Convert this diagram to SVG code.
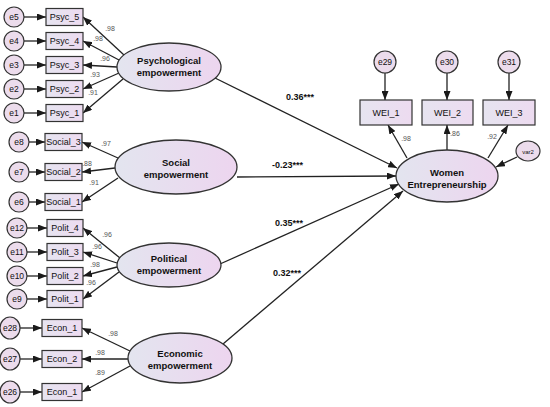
<svg xmlns="http://www.w3.org/2000/svg" width="550" height="407" viewBox="0 0 550 407">
<defs>
<linearGradient id="gl" x1="0" y1="0" x2="1" y2="0">
<stop offset="0" stop-color="#e3e5ef"/><stop offset="1" stop-color="#edd5ef"/>
</linearGradient>
<linearGradient id="gb" x1="0" y1="0" x2="1" y2="0">
<stop offset="0" stop-color="#e6e4f0"/><stop offset="1" stop-color="#eddbf0"/>
</linearGradient>
<marker id="ah" markerUnits="userSpaceOnUse" markerWidth="9" markerHeight="7" refX="9" refY="3.5" orient="auto">
<path d="M0,0 L9,3.5 L0,7 z" fill="#1a1a1a"/>
</marker>
</defs>
<style>
.lat{fill:url(#gl);stroke:#333;stroke-width:1.3}
.box{fill:url(#gb);stroke:#333;stroke-width:1.2}
.err{fill:#ecdcec;stroke:#333;stroke-width:1.2}
.ln{stroke:#222;stroke-width:1.3;fill:none;marker-end:url(#ah)}
.lt{font-family:"Liberation Sans",Arial,sans-serif;font-weight:bold;font-size:9.5px;fill:#111;text-anchor:middle}
.bt{font-family:"Liberation Sans",Arial,sans-serif;font-size:9px;fill:#111;text-anchor:middle}
.et{font-family:"Liberation Sans",Arial,sans-serif;font-size:8.5px;fill:#111;text-anchor:middle}
.ld{font-family:"Liberation Sans",Arial,sans-serif;font-size:7px;fill:#555;text-anchor:middle}
.pc{font-family:"Liberation Sans",Arial,sans-serif;font-weight:bold;font-size:9px;fill:#111}
</style>
<rect width="550" height="407" fill="#fff"/>

<g id="connectors">
<line class="ln" x1="24" y1="17" x2="46" y2="17"/>
<line class="ln" x1="24" y1="41" x2="46" y2="41"/>
<line class="ln" x1="24" y1="65" x2="46" y2="65"/>
<line class="ln" x1="24" y1="89" x2="46" y2="89"/>
<line class="ln" x1="24" y1="113" x2="46" y2="113"/>
<line class="ln" x1="29" y1="142" x2="45" y2="142"/>
<line class="ln" x1="29" y1="172" x2="45" y2="172"/>
<line class="ln" x1="29" y1="202" x2="45" y2="202"/>
<line class="ln" x1="27" y1="228" x2="47" y2="228"/>
<line class="ln" x1="27" y1="252" x2="47" y2="252"/>
<line class="ln" x1="27" y1="276" x2="47" y2="276"/>
<line class="ln" x1="27" y1="299" x2="47" y2="299"/>
<line class="ln" x1="20" y1="328" x2="42" y2="328"/>
<line class="ln" x1="20" y1="359" x2="42" y2="359"/>
<line class="ln" x1="20" y1="392" x2="42" y2="392"/>
<line class="ln" x1="124" y1="55" x2="83" y2="17"/>
<line class="ln" x1="119" y1="60" x2="83" y2="41"/>
<line class="ln" x1="117" y1="67" x2="83" y2="65"/>
<line class="ln" x1="119" y1="73" x2="83" y2="89"/>
<line class="ln" x1="123" y1="79" x2="83" y2="113"/>
<line class="ln" x1="118" y1="158" x2="82" y2="142"/>
<line class="ln" x1="115" y1="168" x2="82" y2="172"/>
<line class="ln" x1="118" y1="178" x2="82" y2="202"/>
<line class="ln" x1="120" y1="258" x2="83" y2="228"/>
<line class="ln" x1="117" y1="263" x2="83" y2="252"/>
<line class="ln" x1="117" y1="267" x2="83" y2="276"/>
<line class="ln" x1="119" y1="272" x2="83" y2="299"/>
<line class="ln" x1="130" y1="351" x2="82" y2="328"/>
<line class="ln" x1="128" y1="359" x2="82" y2="359"/>
<line class="ln" x1="130" y1="366" x2="82" y2="392"/>
<line class="ln" x1="215" y1="78" x2="397" y2="168"/>
<line class="ln" x1="237" y1="177" x2="396" y2="176"/>
<line class="ln" x1="220" y1="264" x2="399" y2="184"/>
<line class="ln" x1="223" y1="344" x2="403" y2="191"/>
<line class="ln" x1="407" y1="158" x2="388" y2="125"/>
<line class="ln" x1="447" y1="150" x2="447" y2="125"/>
<line class="ln" x1="488" y1="158" x2="508" y2="125"/>
<line class="ln" x1="385" y1="73" x2="385" y2="100"/>
<line class="ln" x1="447" y1="73" x2="447" y2="100"/>
<line class="ln" x1="509" y1="73" x2="509" y2="100"/>
<line class="ln" x1="517" y1="157" x2="496" y2="167"/>
</g>

<g id="psych">
<ellipse class="lat" cx="169" cy="67" rx="52" ry="24"/>
<text class="lt" x="169" y="64">Psychological</text>
<text class="lt" x="169" y="75.5">empowerment</text>
</g>
<g id="social">
<ellipse class="lat" cx="176" cy="167" rx="61" ry="27"/>
<text class="lt" x="176" y="166">Social</text>
<text class="lt" x="176" y="177.5">empowerment</text>
</g>
<g id="political">
<ellipse class="lat" cx="169" cy="265" rx="52" ry="22"/>
<text class="lt" x="169" y="262">Political</text>
<text class="lt" x="169" y="273.5">empowerment</text>
</g>
<g id="economic">
<ellipse class="lat" cx="180" cy="358" rx="52" ry="25"/>
<text class="lt" x="180" y="357">Economic</text>
<text class="lt" x="180" y="368.5">empowerment</text>
</g>
<g id="women">
<ellipse class="lat" cx="447" cy="176" rx="51" ry="26"/>
<text class="lt" x="447" y="176">Women</text>
<text class="lt" x="447" y="187.5">Entrepreneurship</text>
</g>

<g id="psyc-items">
<g id="psyc5"><rect class="box" x="46" y="8.5" width="37" height="17"/><text class="bt" x="64.5" y="20.2">Psyc_5</text></g>
<g id="psyc4"><rect class="box" x="46" y="32.5" width="37" height="17"/><text class="bt" x="64.5" y="44.2">Psyc_4</text></g>
<g id="psyc3"><rect class="box" x="46" y="56.5" width="37" height="17"/><text class="bt" x="64.5" y="68.2">Psyc_3</text></g>
<g id="psyc2"><rect class="box" x="46" y="80.5" width="37" height="17"/><text class="bt" x="64.5" y="92.2">Psyc_2</text></g>
<g id="psyc1"><rect class="box" x="46" y="104.5" width="37" height="17"/><text class="bt" x="64.5" y="116.2">Psyc_1</text></g>
<g id="e5"><circle class="err" cx="14" cy="17" r="10"/><text class="et" x="14" y="20">e5</text></g>
<g id="e4"><circle class="err" cx="14" cy="41" r="10"/><text class="et" x="14" y="44">e4</text></g>
<g id="e3"><circle class="err" cx="14" cy="65" r="10"/><text class="et" x="14" y="68">e3</text></g>
<g id="e2"><circle class="err" cx="14" cy="89" r="10"/><text class="et" x="14" y="92">e2</text></g>
<g id="e1"><circle class="err" cx="14" cy="113" r="10"/><text class="et" x="14" y="116">e1</text></g>
</g>

<g id="social-items">
<g id="social3"><rect class="box" x="45" y="133.5" width="37" height="17"/><text class="bt" x="63.5" y="145.2">Social_3</text></g>
<g id="social2"><rect class="box" x="45" y="163.5" width="37" height="17"/><text class="bt" x="63.5" y="175.2">Social_2</text></g>
<g id="social1"><rect class="box" x="45" y="193.5" width="37" height="17"/><text class="bt" x="63.5" y="205.2">Social_1</text></g>
<g id="e8"><circle class="err" cx="19" cy="142" r="10"/><text class="et" x="19" y="145">e8</text></g>
<g id="e7"><circle class="err" cx="19" cy="172" r="10"/><text class="et" x="19" y="175">e7</text></g>
<g id="e6"><circle class="err" cx="19" cy="202" r="10"/><text class="et" x="19" y="205">e6</text></g>
</g>

<g id="polit-items">
<g id="polit4"><rect class="box" x="47" y="219.5" width="36" height="17"/><text class="bt" x="65" y="231.2">Polit_4</text></g>
<g id="polit3"><rect class="box" x="47" y="243.5" width="36" height="17"/><text class="bt" x="65" y="255.2">Polit_3</text></g>
<g id="polit2"><rect class="box" x="47" y="267.5" width="36" height="17"/><text class="bt" x="65" y="279.2">Polit_2</text></g>
<g id="polit1"><rect class="box" x="47" y="290.5" width="36" height="17"/><text class="bt" x="65" y="302.2">Polit_1</text></g>
<g id="e12"><circle class="err" cx="17" cy="228" r="10"/><text class="et" x="17" y="231">e12</text></g>
<g id="e11"><circle class="err" cx="17" cy="252" r="10"/><text class="et" x="17" y="255">e11</text></g>
<g id="e10"><circle class="err" cx="17" cy="276" r="10"/><text class="et" x="17" y="279">e10</text></g>
<g id="e9"><circle class="err" cx="17" cy="299" r="10"/><text class="et" x="17" y="302">e9</text></g>
</g>

<g id="econ-items">
<g id="econ1a"><rect class="box" x="42" y="319.5" width="40" height="17"/><text class="bt" x="62" y="331.2">Econ_1</text></g>
<g id="econ2"><rect class="box" x="42" y="350.5" width="40" height="17"/><text class="bt" x="62" y="362.2">Econ_2</text></g>
<g id="econ1b"><rect class="box" x="42" y="383.5" width="40" height="17"/><text class="bt" x="62" y="395.2">Econ_1</text></g>
<g id="e28"><ellipse class="err" cx="10" cy="328" rx="10" ry="11"/><text class="et" x="10" y="331">e28</text></g>
<g id="e27"><ellipse class="err" cx="10" cy="359" rx="10" ry="11"/><text class="et" x="10" y="362">e27</text></g>
<g id="e26"><ellipse class="err" cx="10" cy="392" rx="10" ry="11"/><text class="et" x="10" y="395">e26</text></g>
</g>

<g id="wei-items">
<g id="wei1"><rect class="box" x="360" y="100" width="52" height="25"/><text class="bt" x="386" y="115.5">WEI_1</text></g>
<g id="wei2"><rect class="box" x="422" y="100" width="51" height="25"/><text class="bt" x="447.5" y="115.5">WEI_2</text></g>
<g id="wei3"><rect class="box" x="483" y="100" width="52" height="25"/><text class="bt" x="509" y="115.5">WEI_3</text></g>
<g id="e29"><circle class="err" cx="385" cy="62" r="11"/><text class="et" x="385" y="65">e29</text></g>
<g id="e30"><circle class="err" cx="447" cy="62" r="11"/><text class="et" x="447" y="65">e30</text></g>
<g id="e31"><circle class="err" cx="509" cy="62" r="11"/><text class="et" x="509" y="65">e31</text></g>
<g id="var2"><ellipse class="err" cx="528" cy="151" rx="12" ry="10"/><text class="et" x="528" y="153.5" style="font-size:6px">var2</text></g>
</g>

<g id="labels">
<text class="ld" x="110" y="31">.98</text>
<text class="ld" x="98" y="41">.98</text>
<text class="ld" x="105" y="61">.96</text>
<text class="ld" x="95" y="77">.93</text>
<text class="ld" x="93" y="95">.91</text>
<text class="ld" x="106" y="146">.97</text>
<text class="ld" x="87" y="166">.88</text>
<text class="ld" x="94" y="185">.91</text>
<text class="ld" x="107" y="237">.96</text>
<text class="ld" x="97" y="249">.96</text>
<text class="ld" x="95" y="267">.98</text>
<text class="ld" x="91" y="285">.96</text>
<text class="ld" x="113" y="336">.98</text>
<text class="ld" x="100" y="355">.98</text>
<text class="ld" x="100" y="375">.89</text>
<text class="ld" x="406" y="141">.98</text>
<text class="ld" x="455" y="136">.86</text>
<text class="ld" x="492" y="139">.92</text>
<text class="pc" x="286" y="100">0.36***</text>
<text class="pc" x="272" y="168">-0.23***</text>
<text class="pc" x="275" y="226">0.35***</text>
<text class="pc" x="273" y="276">0.32***</text>
</g>
</svg>
